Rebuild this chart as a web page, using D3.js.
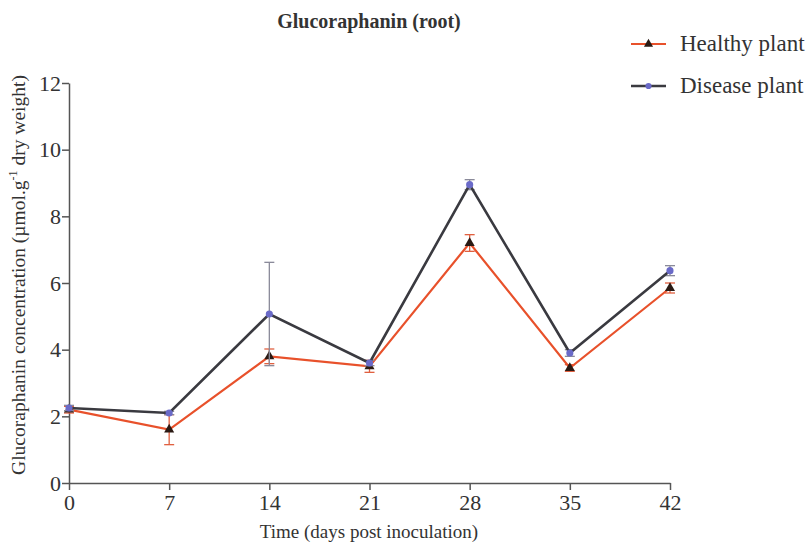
<!DOCTYPE html>
<html>
<head>
<meta charset="utf-8">
<script src="https://cdn.jsdelivr.net/npm/d3@7"></script>
<style>
  body { margin: 0; background: #fff; }
  text { font-family: "Liberation Serif", "DejaVu Serif", serif; fill: #333; }
</style>
</head>
<body>
<svg></svg>
<script>
const days = [0, 7, 14, 21, 28, 35, 42];
const healthy = [2.2, 1.6, 3.8, 3.5, 7.2, 3.45, 5.85];
const healthyErr = [0.1, 0.45, 0.22, 0.18, 0.25, 0.1, 0.15];
const disease = [2.25, 2.1, 5.07, 3.6, 8.95, 3.9, 6.37];
const diseaseErr = [0.08, 0.05, 1.55, 0.08, 0.15, 0.1, 0.15];
const yTicks = [0, 2, 4, 6, 8, 10, 12];

const W = 812, H = 542;
const svg = d3.select("svg").attr("width", W).attr("height", H);

const x = d3.scaleLinear().domain([0, 42]).range([69, 670]);
const y = d3.scaleLinear().domain([0, 12]).range([483, 83]);

const axisColor = "#555";

const gx = svg.append("g")
  .attr("transform", `translate(0,${y(0)})`)
  .call(d3.axisBottom(x).tickValues(days).tickSize(7).tickPadding(4).tickSizeOuter(0));
const gy = svg.append("g")
  .attr("transform", `translate(${x(0)},0)`)
  .call(d3.axisLeft(y).tickValues(yTicks).tickSize(7).tickPadding(1).tickSizeOuter(0));
[gx, gy].forEach(g => {
  g.select(".domain").attr("stroke", axisColor).attr("stroke-width", 1.5);
  g.selectAll(".tick line").attr("stroke", axisColor).attr("stroke-width", 1.5);
  g.selectAll(".tick text").style("font-size", "22px").attr("fill", "#444")
    .style("font-family", "'Liberation Serif', serif");
});

const series = [
  { name: "Healthy plant", vals: healthy, err: healthyErr, line: "#e8512b", errColor: "#e06040", marker: "triangle", mColor: "#2a1a14", lw: 2.2 },
  { name: "Disease plant", vals: disease, err: diseaseErr, line: "#3a3a40", errColor: "#8a8a9a", marker: "circle", mColor: "#6a6ac8", lw: 2.6 }
];

series.forEach(s => {
  const g = svg.append("g");
  const pts = days.map((d, i) => ({ d, v: s.vals[i], e: s.err[i] }));
  // error bars
  const eb = g.selectAll("g.err").data(pts).join("g").attr("class", "err")
    .attr("stroke", s.errColor).attr("stroke-width", 1.3);
  eb.append("line").attr("x1", p => x(p.d)).attr("x2", p => x(p.d))
    .attr("y1", p => y(p.v - p.e)).attr("y2", p => y(p.v + p.e));
  eb.append("line").attr("x1", p => x(p.d) - 5).attr("x2", p => x(p.d) + 5)
    .attr("y1", p => y(p.v + p.e)).attr("y2", p => y(p.v + p.e));
  eb.append("line").attr("x1", p => x(p.d) - 5).attr("x2", p => x(p.d) + 5)
    .attr("y1", p => y(p.v - p.e)).attr("y2", p => y(p.v - p.e));
  g.append("path").datum(pts)
    .attr("fill", "none").attr("stroke", s.line).attr("stroke-width", s.lw)
    .attr("d", d3.line().x(p => x(p.d)).y(p => y(p.v)));
  const sym = d3.symbol().type(s.marker === "triangle" ? d3.symbolTriangle : d3.symbolCircle)
    .size(s.marker === "triangle" ? 44 : 40);
  g.selectAll("path.mk").data(pts).join("path").attr("class", "mk")
    .attr("transform", p => `translate(${x(p.d)},${y(p.v)})`)
    .attr("d", sym).attr("fill", s.mColor);
});

// title
svg.append("text").attr("x", 369).attr("y", 28).attr("text-anchor", "middle")
  .style("font-size", "20px").style("font-weight", "bold").attr("fill", "#222")
  .text("Glucoraphanin (root)");

// axis titles
svg.append("text").attr("x", 369).attr("y", 538).attr("text-anchor", "middle")
  .style("font-size", "19px").attr("fill", "#444")
  .text("Time (days post inoculation)");

const yl = svg.append("text")
  .attr("transform", `translate(25,${(y(0) + y(12)) / 2 - 8}) rotate(-90)`)
  .attr("text-anchor", "middle").style("font-size", "19.5px").attr("fill", "#444");
yl.append("tspan").text("Glucoraphanin concentration (µmol.g");
yl.append("tspan").attr("dy", -8).style("font-size", "12px").text("-1");
yl.append("tspan").attr("dy", 8).text(" dry weight)");

// legend
const leg = svg.append("g");
series.forEach((s, i) => {
  const ly = 44 + i * 42;
  leg.append("line").attr("x1", 631).attr("x2", 666).attr("y1", ly).attr("y2", ly)
    .attr("stroke", s.line).attr("stroke-width", s.lw);
  const sym = d3.symbol().type(s.marker === "triangle" ? d3.symbolTriangle : d3.symbolCircle)
    .size(s.marker === "triangle" ? 36 : 30);
  leg.append("path").attr("transform", `translate(648.5,${ly})`).attr("d", sym).attr("fill", s.mColor);
  leg.append("text").attr("x", 680).attr("y", ly + 7)
    .style("font-size", "23px").attr("fill", "#333").text(s.name);
});
</script>
</body>
</html>
